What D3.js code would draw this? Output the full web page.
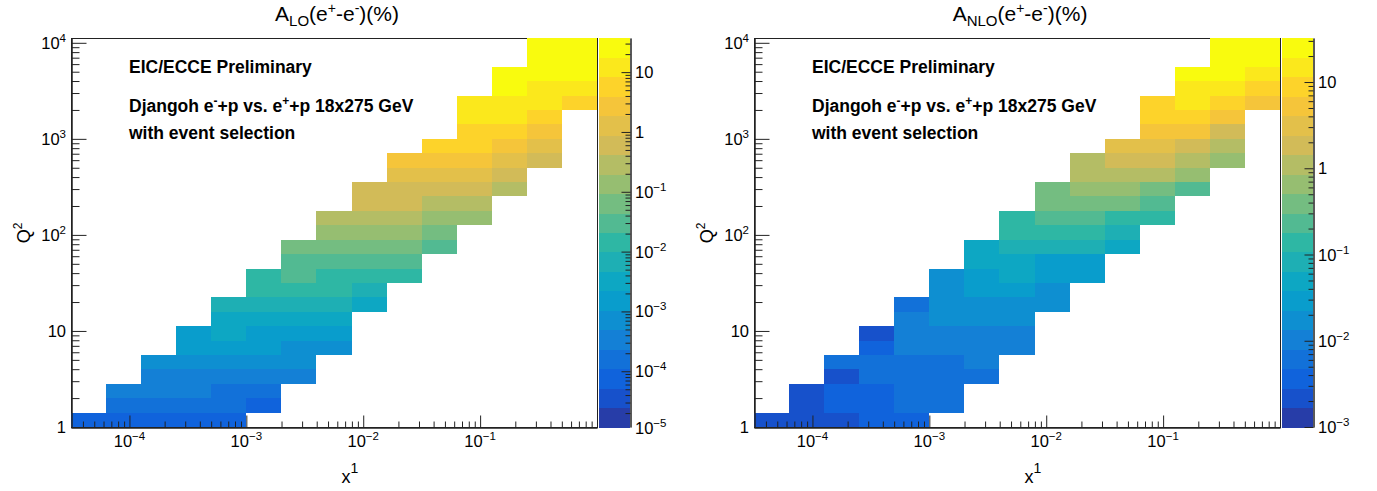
<!DOCTYPE html>
<html lang="en">
  <head>
    <meta charset="UTF-8" />
    <title>Charge asymmetry e+ vs e- (LO / NLO)</title>
    <script src="https://d3js.org/d3.v7.min.js"></script>
    <style>
      body {
        margin: 0;
        background: #fff;
      }
      svg {
        display: block;
        font-family: "Liberation Sans", Arial, Helvetica, sans-serif;
      }
    </style>
  </head>
  <body>
    <svg width="1377" height="491"></svg>

    <script>
      // bin edges of the histograms (0.3 decades in x, 0.15 decades in Q2)
      const xEdges = [3.162e-5, 6.31e-5, 1.259e-4, 2.512e-4, 5.012e-4, 1e-3, 1.995e-3, 3.981e-3,
        7.943e-3, 0.01585, 0.03162, 0.0631, 0.1259, 0.2512, 0.5012, 1];
      const q2Edges = [1, 1.413, 1.995, 2.818, 3.981, 5.623, 7.943, 11.22, 15.85, 22.39, 31.62,
        44.67, 63.1, 89.13, 125.9, 177.8, 251.2, 354.8, 501.2, 707.9, 1000, 1413, 1995, 2818,
        3981, 5623, 7943, 11220];

      // first filled x bin of each Q2 row (row 0 = lowest Q2)
      const firstBin = [0, 1, 1, 2, 2, 3, 3, 4, 4, 5, 5, 6, 6, 7, 7, 8, 8, 9, 9, 10, 11, 11, 11, 12, 12, 13, 13];

      // A_LO (%) per Q2 row, starting at firstBin
      const loValues = [
        [7.5e-5, 7.8e-5, 7.4e-5, 7.7e-5, 7.9e-5],
        [1.6e-4, 1.5e-4, 1.6e-4, 1.7e-4, 8.2e-5],
        [3.3e-4, 3.4e-4, 3.2e-4, 1.7e-4, 1.6e-4],
        [3.5e-4, 3.4e-4, 3.3e-4, 3.5e-4, 3.2e-4],
        [7.0e-4, 7.3e-4, 7.1e-4, 7.4e-4, 6.9e-4],
        [1.5e-3, 1.4e-3, 1.5e-3, 7.4e-4, 7.2e-4],
        [1.6e-3, 3.1e-3, 1.5e-3, 1.6e-3, 1.5e-3],
        [3.2e-3, 3.3e-3, 3.1e-3, 3.2e-3],
        [6.8e-3, 6.6e-3, 7.0e-3, 6.9e-3, 3.3e-3],
        [0.0145, 0.014, 0.015, 0.0068],
        [0.015, 0.031, 0.0145, 0.014, 0.015],
        [0.03, 0.031, 0.029, 0.03],
        [0.063, 0.065, 0.062, 0.064, 0.031],
        [0.135, 0.14, 0.13, 0.065],
        [0.29, 0.28, 0.3, 0.14, 0.13],
        [0.6, 0.62, 0.29, 0.3],
        [0.62, 0.61, 0.63, 0.6, 0.29],
        [1.3, 1.25, 1.3, 0.62],
        [2.7, 2.8, 2.6, 1.3, 0.6],
        [5.7, 5.6, 2.7, 1.3],
        [5.8, 5.6, 2.8],
        [12.0, 12.5, 5.7],
        [12.0, 12.3, 11.8, 5.8],
        [25, 12.4, 12.0],
        [26, 25, 24],
        [26, 27],
        [27, 28],
      ];

      // A_NLO (%) per Q2 row, starting at firstBin
      const nloValues = [
        [2.2e-3, 2.1e-3, 2.3e-3, 3.8e-3, 3.6e-3],
        [2.2e-3, 3.7e-3, 3.8e-3, 6.2e-3, 6.0e-3],
        [2.3e-3, 3.6e-3, 3.8e-3, 6.3e-3, 6.1e-3],
        [2.2e-3, 6.1e-3, 6.3e-3, 6.2e-3, 6.0e-3],
        [6.2e-3, 6.0e-3, 6.3e-3, 6.1e-3, 0.0102],
        [3.7e-3, 0.0104, 0.0101, 0.0105, 0.0103],
        [2.1e-3, 0.0103, 0.0105, 0.0102, 0.0104],
        [0.0104, 0.0175, 0.017, 0.0178],
        [6.2e-3, 0.0172, 0.0176, 0.0174, 0.0171],
        [0.0176, 0.029, 0.03, 0.0173],
        [0.0174, 0.029, 0.049, 0.03, 0.028],
        [0.049, 0.05, 0.029, 0.03],
        [0.048, 0.083, 0.085, 0.082, 0.049],
        [0.14, 0.138, 0.142, 0.083],
        [0.137, 0.23, 0.235, 0.14, 0.138],
        [0.39, 0.4, 0.38, 0.23],
        [0.39, 0.66, 0.65, 0.4, 0.235],
        [1.1, 1.12, 1.08, 0.66],
        [1.1, 1.85, 1.9, 1.12, 0.65],
        [3.1, 3.05, 1.86, 1.1],
        [5.3, 5.2, 1.88],
        [8.8, 8.7, 5.3],
        [8.9, 14.8, 8.7, 5.3],
        [14.9, 15.0, 8.8],
        [25, 25.5, 14.8],
        [26, 27],
        [27, 28],
      ];

      // colour axis ranges (%)
      const loZRange = [1.17e-5, 37.2];
      const nloZRange = [1e-3, 32.4];
      const nLevels = 20;

      // ROOT kBird palette
      const birdStops = [0, 0.125, 0.25, 0.375, 0.5, 0.625, 0.75, 0.875, 1];
      const birdColors = ["rgb(53,42,135)", "rgb(15,92,221)", "rgb(20,129,214)", "rgb(6,164,202)",
        "rgb(46,183,164)", "rgb(135,191,119)", "rgb(209,187,89)", "rgb(254,200,50)", "rgb(249,251,14)"];
      const bird = d3.scaleLinear().domain(birdStops).range(birdColors).interpolate(d3.interpolateRgb);

      const svg = d3.select("svg");
      const frame = {left: 71, right: 597, top: 38, bottom: 427};
      const bar = {left: 599, right: 630};

      function isDecade(v) {
        const l = Math.log10(v);
        return Math.abs(l - Math.round(l)) < 1e-6;
      }

      // "10^n" labels like ROOT
      function powLabel(sel, v, supSize, supDy) {
        const e = Math.round(Math.log10(v));
        if (e === 0) return sel.text("1");
        if (e === 1) return sel.text("10");
        sel.append("tspan").text("10");
        sel.append("tspan").attr("dy", supDy).attr("font-size", supSize)
          .text(e < 0 ? "\u2212" + -e : e);
      }

      function drawPanel(dx, sub, values, zRange) {
        const g = svg.append("g").attr("transform", `translate(${dx},0)`);

        const x = d3.scaleLog().domain([xEdges[0], xEdges[xEdges.length - 1]]).range([frame.left, frame.right]);
        const y = d3.scaleLog().domain([q2Edges[0], q2Edges[q2Edges.length - 1]]).range([frame.bottom, frame.top]);
        const z = d3.scaleLog().domain(zRange).range([frame.bottom, frame.top]);
        const level = d3.scaleLog().domain(zRange).range([0, nLevels]);
        const levelColor = (b) => bird(Math.floor(((b + 0.99) * 255) / nLevels) / 254);
        const cellColor = (v) => levelColor(Math.max(0, Math.min(nLevels - 1, Math.floor(level(v)))));

        // frame
        g.append("rect")
          .attr("x", frame.left + 0.5).attr("y", frame.top + 0.5)
          .attr("width", frame.right - frame.left).attr("height", frame.bottom - frame.top)
          .attr("fill", "none").attr("stroke", "#222").attr("stroke-width", 1);

        // cells
        const cells = [];
        values.forEach((row, r) => row.forEach((v, k) => cells.push({c: firstBin[r] + k, r, v})));
        g.append("g").attr("shape-rendering", "crispEdges")
          .selectAll("rect").data(cells).join("rect")
          .attr("x", (d) => x(xEdges[d.c]))
          .attr("width", (d) => x(xEdges[d.c + 1]) - x(xEdges[d.c]))
          .attr("y", (d) => y(q2Edges[d.r + 1]))
          .attr("height", (d) => y(q2Edges[d.r]) - y(q2Edges[d.r + 1]))
          .attr("fill", (d) => cellColor(d.v));

        // x axis
        const xTicks = x.ticks(30);
        const xAx = g.append("g").attr("transform", `translate(0,${frame.bottom + 0.5})`);
        xAx.append("g").call(d3.axisBottom(x).tickValues(xTicks.filter((t) => !isDecade(t)))
          .tickSize(-6).tickSizeOuter(0).tickFormat(""));
        xAx.append("g").call(d3.axisBottom(x).tickValues(xTicks.filter(isDecade))
          .tickSize(-12).tickSizeOuter(0).tickFormat(""));
        xAx.selectAll("path.domain").attr("stroke", "#222");
        xAx.selectAll("line").attr("stroke", "#222");
        g.append("g").selectAll("text").data(xTicks.filter((t) => isDecade(t) && t < 1)).join("text")
          .attr("x", (d) => x(d)).attr("y", 447).attr("text-anchor", "middle").attr("font-size", 16.5)
          .each(function (d) { powLabel(d3.select(this), d, 11.5, -7); });

        // y axis
        const yTicks = y.ticks(30);
        const yAx = g.append("g").attr("transform", `translate(${frame.left + 0.5},0)`);
        yAx.append("g").call(d3.axisLeft(y).tickValues(yTicks.filter((t) => !isDecade(t)))
          .tickSize(-8).tickSizeOuter(0).tickFormat(""));
        yAx.append("g").call(d3.axisLeft(y).tickValues(yTicks.filter(isDecade))
          .tickSize(-15).tickSizeOuter(0).tickFormat(""));
        yAx.selectAll("path.domain").attr("stroke", "#222");
        yAx.selectAll("line").attr("stroke", "#222");
        g.append("g").selectAll("text").data(yTicks.filter(isDecade)).join("text")
          .attr("x", 66).attr("y", (d) => y(d) + 6).attr("text-anchor", "end").attr("font-size", 16.5)
          .each(function (d) { powLabel(d3.select(this), d, 11.5, -7); });

        // colour bar
        g.append("g").attr("shape-rendering", "crispEdges")
          .selectAll("rect").data(d3.range(nLevels)).join("rect")
          .attr("x", bar.left).attr("width", bar.right - bar.left)
          .attr("y", (b) => z.invert ? frame.bottom - ((b + 1) * (frame.bottom - frame.top)) / nLevels : 0)
          .attr("height", (frame.bottom - frame.top) / nLevels + 0.5)
          .attr("fill", levelColor);
        const zTicks = z.ticks(30);
        const zAx = g.append("g").attr("transform", `translate(${bar.right + 0.5},0)`);
        zAx.append("g").call(d3.axisRight(z).tickValues(zTicks.filter((t) => !isDecade(t)))
          .tickSize(-5).tickSizeOuter(0).tickFormat(""));
        zAx.append("g").call(d3.axisRight(z).tickValues(zTicks.filter(isDecade))
          .tickSize(-9).tickSizeOuter(0).tickFormat(""));
        zAx.selectAll("path.domain").attr("stroke", "#222");
        zAx.selectAll("line").attr("stroke", "#222");
        const zLabels = d3.range(-6, 3).map((e) => Math.pow(10, e))
          .filter((v) => z(v) >= frame.top - 2 && z(v) <= frame.bottom + 6);
        g.append("g").selectAll("text").data(zLabels).join("text")
          .attr("x", 635).attr("y", (d) => Math.min(z(d), frame.bottom + 1) + 6).attr("font-size", 16.5)
          .each(function (d) { powLabel(d3.select(this), d, 11.5, -7); });

        // title
        const title = g.append("text").attr("x", 337).attr("y", 21)
          .attr("text-anchor", "middle").attr("font-size", 21);
        title.append("tspan").text("A");
        title.append("tspan").attr("font-size", 15).attr("dy", 5).text(sub);
        title.append("tspan").attr("dy", -5).text("(e");
        title.append("tspan").attr("font-size", 14).attr("dy", -8).text("+");
        title.append("tspan").attr("dy", 8).text("-e");
        title.append("tspan").attr("font-size", 14).attr("dy", -8).text("-");
        title.append("tspan").attr("dy", 8).text(")(%)");

        // axis titles
        const yt = g.append("text").attr("transform", "translate(30,233) rotate(-90)")
          .attr("text-anchor", "middle").attr("font-size", 18);
        yt.append("tspan").text("Q");
        yt.append("tspan").attr("font-size", 12).attr("dy", -8).text("2");
        const xt = g.append("text").attr("x", 350).attr("y", 483)
          .attr("text-anchor", "middle").attr("font-size", 18);
        xt.append("tspan").text("x");
        xt.append("tspan").attr("font-size", 14).attr("dy", -10).text("1");

        // labels inside the frame
        const lab = g.append("g").attr("font-weight", "bold").attr("font-size", 17.5);
        lab.append("text").attr("x", 129).attr("y", 73).text("EIC/ECCE Preliminary");
        const l2 = lab.append("text").attr("x", 129).attr("y", 112);
        l2.append("tspan").text("Djangoh e");
        l2.append("tspan").attr("font-size", 12).attr("dy", -7).text("-");
        l2.append("tspan").attr("dy", 7).text("+p vs. e");
        l2.append("tspan").attr("font-size", 12).attr("dy", -7).text("+");
        l2.append("tspan").attr("dy", 7).text("+p 18x275 GeV");
        lab.append("text").attr("x", 129).attr("y", 138.5).text("with event selection");
      }

      drawPanel(0, "LO", loValues, loZRange);
      drawPanel(683, "NLO", nloValues, nloZRange);
    </script>
  </body>
</html>
